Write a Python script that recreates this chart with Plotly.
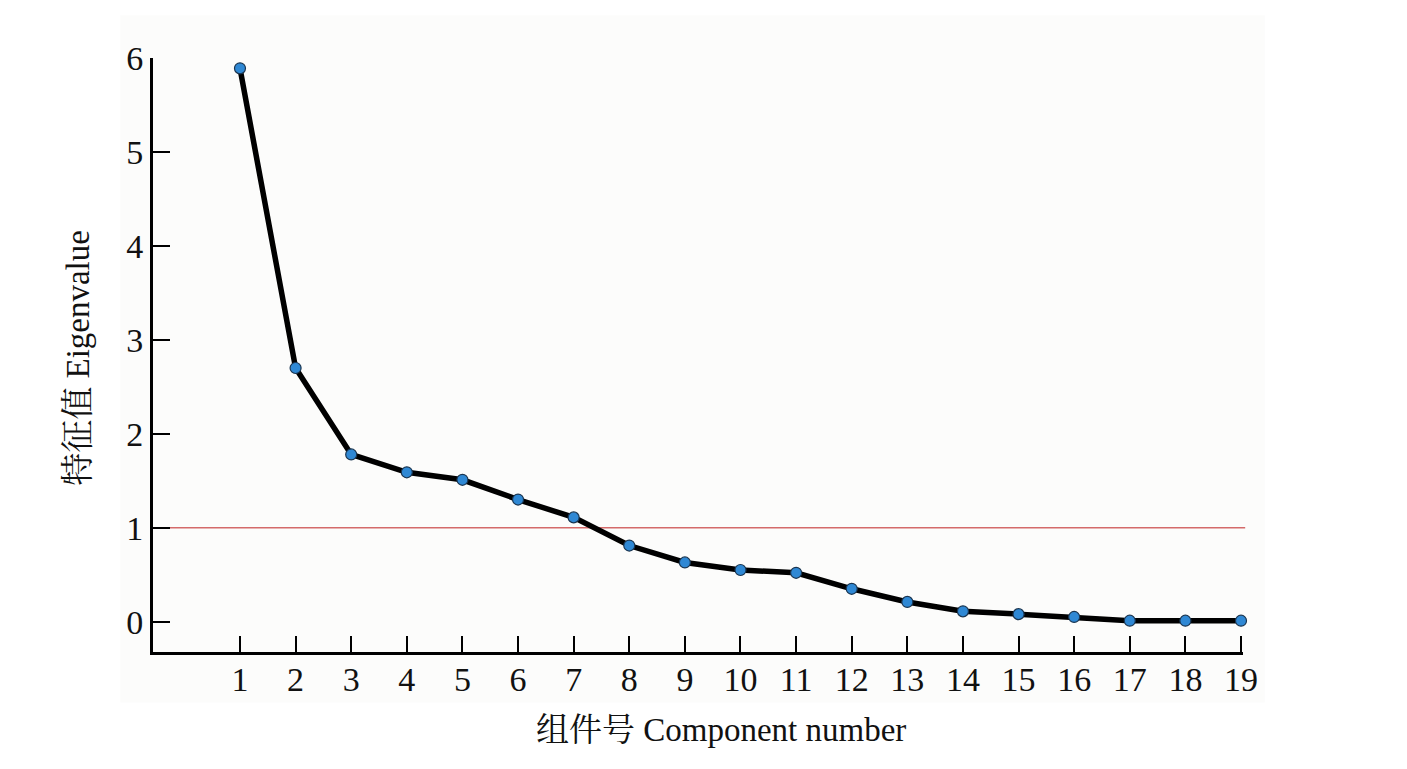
import plotly.graph_objects as go

# scree plot data
components = list(range(1, 20))
eigenvalues = [5.89, 2.70, 1.78, 1.59, 1.51, 1.30, 1.11, 0.81, 0.63, 0.55,
               0.52, 0.35, 0.21, 0.11, 0.08, 0.05, 0.01, 0.01, 0.01]
threshold = 1
y_ticks = [0, 1, 2, 3, 4, 5, 6]

serif = "Liberation Serif, Times New Roman, Noto Serif CJK SC, Noto Sans CJK SC, serif"

fig = go.Figure()
fig.add_trace(go.Scatter(
    x=components, y=eigenvalues, mode="lines+markers",
    line=dict(color="black", width=5.5),
    marker=dict(size=11, color="#2f88d4", line=dict(color="#1a3550", width=1.2)),
    showlegend=False, cliponaxis=False,
))

# faint backdrop behind the chart
fig.add_shape(type="rect", xref="paper", yref="paper",
              x0=-0.03, x1=1.02, y0=-0.085, y1=1.072,
              fillcolor="#fcfcfb", line=dict(width=0), layer="below")
# eigenvalue = 1 reference line
fig.add_shape(type="line", xref="paper", yref="y",
              x0=0, x1=1.002, y0=threshold, y1=threshold,
              line=dict(color="#d46a6a", width=1.5), layer="below")

fig.update_xaxes(
    range=[-0.564, 19.036], tickvals=components,
    ticks="inside", ticklen=16, tickwidth=1.5, tickcolor="black",
    showline=True, linecolor="black", linewidth=3,
    showgrid=False, zeroline=False, ticklabelstandoff=-5,
    tickfont=dict(family=serif, size=34, color="#111"),
)
fig.update_yaxes(
    range=[-0.323, 6.0], tickvals=y_ticks,
    ticks="inside", ticklen=17, tickwidth=2, tickcolor="black",
    showline=True, linecolor="black", linewidth=3,
    showgrid=False, zeroline=False,
    tickfont=dict(family=serif, size=34, color="#111"),
)

fig.add_annotation(text="组件号 Component number", xref="paper", yref="paper",
                   x=0.521, y=-0.132, yanchor="middle", showarrow=False,
                   font=dict(family=serif, size=33, color="#111"))
fig.add_annotation(text="特征值 Eigenvalue", xref="paper", yref="paper",
                   x=-0.069, y=0.495, xanchor="center", yanchor="middle",
                   textangle=-90, showarrow=False,
                   font=dict(family=serif, size=33, color="#111"))

fig.update_layout(
    width=1407, height=769,
    margin=dict(l=145, r=172, t=50, b=125),
    paper_bgcolor="white", plot_bgcolor="rgba(0,0,0,0)",
)

fig.write_html("out.html")
